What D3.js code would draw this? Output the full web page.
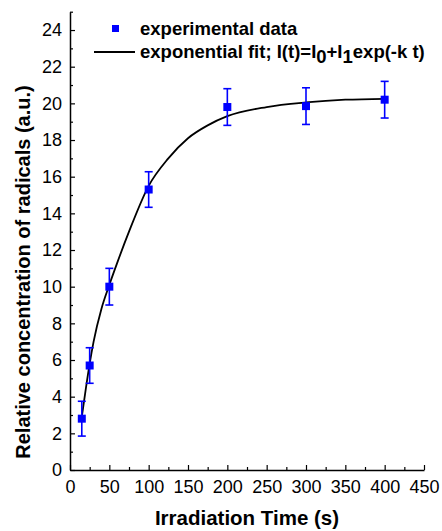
<!DOCTYPE html>
<html><head><meta charset="utf-8">
<script src="https://cdn.jsdelivr.net/npm/d3@7"></script>
<style>body{margin:0;background:#fff}svg{display:block;font-family:"Liberation Sans",Arial,sans-serif}</style>
</head><body><svg id="c" width="442" height="531"></svg>
<script>
const times = [15, 25, 50, 100, 200, 300, 400];
const values = [2.8, 5.7, 10.0, 15.3, 19.8, 19.85, 20.2];
const errors = [0.95, 0.97, 1.0, 0.97, 1.0, 1.0, 1.0];
const fitT = [15, 20, 25, 30, 40, 50, 60, 75, 100, 125, 150, 175, 200, 250, 300, 350, 400];
const fitY = [2.9, 4.4, 5.8, 7.0, 8.8, 10.1, 11.3, 13.0, 15.5, 17.0, 18.1, 18.8, 19.3, 19.8, 20.05, 20.2, 20.25];
const xTicks = [0, 50, 100, 150, 200, 250, 300, 350, 400, 450];
const yTicks = [0, 2, 4, 6, 8, 10, 12, 14, 16, 18, 20, 22, 24];

const svg = d3.select("#c");
const x = d3.scaleLinear().domain([0, 450]).range([70, 424]);
const y = d3.scaleLinear().domain([0, 25]).range([470, 11.7]);
const blue = "#0000ff";

// axes
const xAxis = svg.append("g").attr("transform", `translate(0,${y(0)})`)
  .call(d3.axisBottom(x).tickValues(xTicks).tickSizeInner(-5).tickSizeOuter(0).tickPadding(10));
const xMinor = svg.append("g").attr("transform", `translate(0,${y(0)})`)
  .call(d3.axisBottom(x).tickValues(d3.range(25, 450, 50)).tickSize(-3).tickFormat(""));
const yAxis = svg.append("g").attr("transform", `translate(${x(0)},0)`)
  .call(d3.axisLeft(y).tickValues(yTicks).tickSizeInner(-5).tickSizeOuter(0).tickPadding(8));
const yMinor = svg.append("g").attr("transform", `translate(${x(0)},0)`)
  .call(d3.axisLeft(y).tickValues(d3.range(1, 26, 2)).tickSize(-3).tickFormat(""));
[xAxis, xMinor, yAxis, yMinor].forEach(g => {
  g.selectAll("path").attr("stroke", "#000").attr("stroke-width", 1.5);
  g.selectAll("line").attr("stroke", "#000").attr("stroke-width", 1.2);
  g.selectAll("text").attr("font-size", 18).attr("fill", "#000").attr("font-family", "Liberation Sans, Arial, sans-serif");
});
xMinor.select("path").remove(); yMinor.select("path").remove();

// fit line
svg.append("path")
  .datum(fitT.map((t, i) => [t, fitY[i]]))
  .attr("fill", "none").attr("stroke", "#000").attr("stroke-width", 1.8)
  .attr("d", d3.line().x(d => x(d[0])).y(d => y(d[1])).curve(d3.curveMonotoneX));

// error bars and points
const pts = times.map((t, i) => ({t, v: values[i], e: errors[i]}));
const eb = svg.append("g").attr("stroke", blue).attr("stroke-width", 1.6);
pts.forEach(d => {
  eb.append("line").attr("x1", x(d.t)).attr("x2", x(d.t)).attr("y1", y(d.v - d.e)).attr("y2", y(d.v + d.e));
  eb.append("line").attr("x1", x(d.t) - 4).attr("x2", x(d.t) + 4).attr("y1", y(d.v - d.e)).attr("y2", y(d.v - d.e));
  eb.append("line").attr("x1", x(d.t) - 4).attr("x2", x(d.t) + 4).attr("y1", y(d.v + d.e)).attr("y2", y(d.v + d.e));
});
svg.append("g").selectAll("rect").data(pts).join("rect")
  .attr("x", d => x(d.t) - 4).attr("y", d => y(d.v) - 4).attr("width", 8).attr("height", 8).attr("fill", blue);

// legend
svg.append("rect").attr("x", 112).attr("y", 25).attr("width", 7).attr("height", 7).attr("fill", blue);
svg.append("text").attr("x", 140).attr("y", 35).attr("font-size", 18.5).attr("font-weight", "bold").text("experimental data");
svg.append("line").attr("x1", 94).attr("x2", 135).attr("y1", 52).attr("y2", 52).attr("stroke", "#000").attr("stroke-width", 1.8);
const lt = svg.append("text").attr("x", 140).attr("y", 58).attr("font-size", 18.5).attr("font-weight", "bold");
lt.append("tspan").text("exponential fit; I(t)=I");
lt.append("tspan").attr("dy", 5).text("0");
lt.append("tspan").attr("dy", -5).text("+I");
lt.append("tspan").attr("dy", 5).text("1");
lt.append("tspan").attr("dy", -5).text("exp(-k t)");

// axis titles
svg.append("text").attr("x", 247).attr("y", 525).attr("text-anchor", "middle")
  .attr("font-size", 20.5).attr("font-weight", "bold").text("Irradiation Time (s)");
svg.append("text").attr("transform", "translate(30,272) rotate(-90)").attr("text-anchor", "middle")
  .attr("font-size", 20).attr("font-weight", "bold").text("Relative concentration of radicals (a.u.)");
</script></body></html>
